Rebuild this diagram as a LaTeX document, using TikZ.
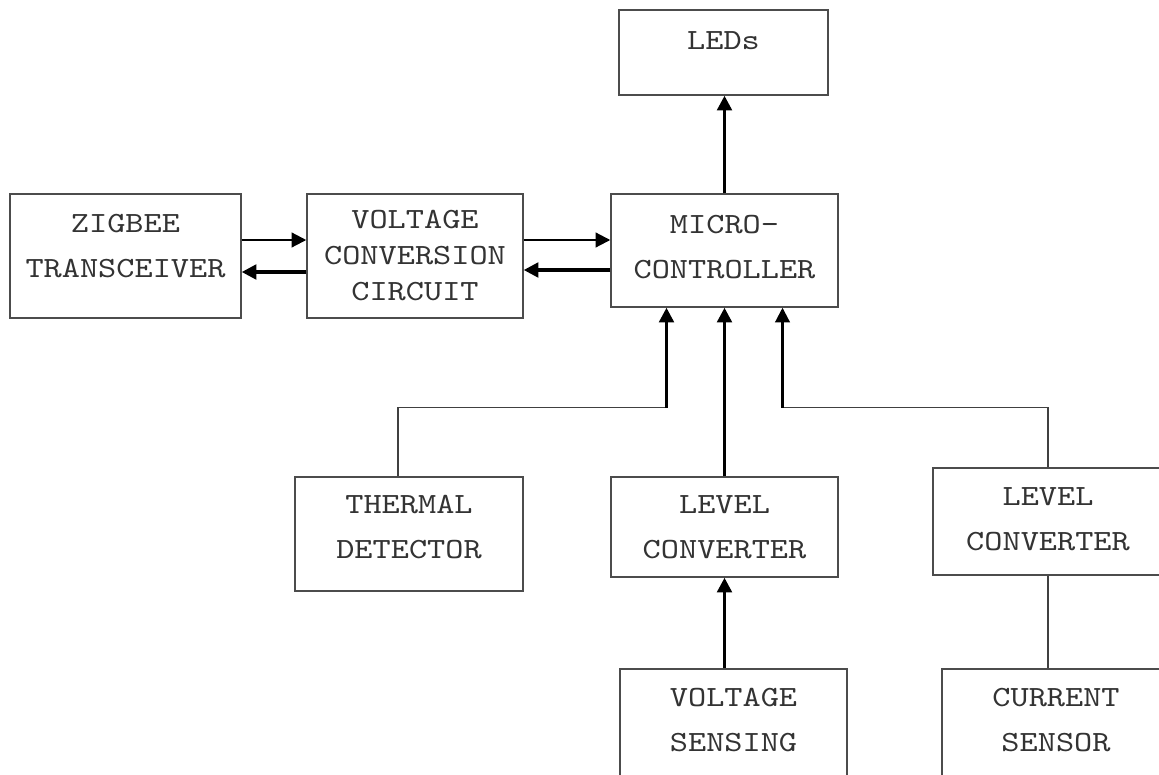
\documentclass[tikz,border=0pt]{standalone}
\usepackage{fontspec}
\newfontfamily\blockfont{lmmono10-regular.otf}[FakeStretch=1.18]
\usetikzlibrary{positioning,calc,arrows.meta}
\newcommand{\padbelow}[1]{\rule[-#1]{0pt}{0pt}}

\tikzset{
  block/.style={draw=black!70, line width=1.1pt, rectangle, align=center, inner sep=0pt,
    font=\blockfont\fontsize{22}{33.75}\selectfont, text=black!80},
  wire/.style={draw=black!75, line width=1.1pt},
  fwd/.style={-{Triangle[length=11pt,width=11pt]}, line width=2.4pt},
  fwdthin/.style={-{Triangle[length=11pt,width=11pt]}, line width=1.6pt}
}

\begin{document}
\begin{tikzpicture}[x=0.75pt,y=-0.75pt]
	\clip (0,0) rectangle (1159,774);
	\fill[white] (0,0) rectangle (1159,774);
	% top row
	\node[block, minimum width=156.75pt, minimum height=63.75pt] (leds) at (723.5,52.5) {};
	\node[block, draw=none, below=16pt of leds.north] (ledstxt) {LEDs};
	\node[block, minimum width=173.25pt, minimum height=93pt] (zig) at (125.5,256) {ZIGBEE\\TRANSCEIVER\padbelow{15pt}};
	\node[block, minimum width=162pt, minimum height=93pt, font=\blockfont\fontsize{22}{27}\selectfont] (vcc) at (415,256) {VOLTAGE\\CONVERSION\\CIRCUIT};
	\node[block, minimum width=170.25pt, minimum height=84.75pt] (mcu) at (724.5,250.5) {MICRO-\\CONTROLLER\padbelow{6pt}};
	% sensing row
	\node[block, minimum width=171pt, minimum height=85.5pt] (therm) at (409,534) {THERMAL\\DETECTOR\padbelow{10.5pt}};
	\node[block, minimum width=170.25pt, minimum height=75pt] (lvla) at (724.5,527) {LEVEL\\CONVERTER};
	\node[block, minimum width=172.5pt, minimum height=80.25pt] (lvlb) at (1048,521.5) {LEVEL\\CONVERTER\padbelow{3pt}};
	\node[block, minimum width=170.25pt, minimum height=83.25pt] (vsen) at (733.5,724.5) {VOLTAGE\\SENSING\padbelow{7.5pt}};
	\node[block, minimum width=171pt, minimum height=83.25pt] (csen) at (1056,724.5) {CURRENT\\SENSOR\padbelow{7.5pt}};

	% links
	\coordinate (zigTx) at ($(zig.east)+(0,-16)$);
	\coordinate (zigRx) at ($(zig.east)+(0,16)$);
	\coordinate (vccTx) at ($(vcc.east)+(0,-16)$);
	\coordinate (vccRx) at ($(vcc.east)+(0,14)$);
	\coordinate (mcuL) at ($(mcu.south)+(-58,0)$);
	\coordinate (mcuR) at ($(mcu.south)+(58,0)$);
	\coordinate (busL) at ($(mcuL)+(0,100)$);
	\coordinate (busR) at ($(mcuR)+(0,100)$);
	\coordinate (thermTop) at ($(therm.north)+(-11,0)$);

	\draw[fwdthin] (zigTx) -- (zigTx -| vcc.west);
	\draw[fwd] (zigRx -| vcc.west) -- (zigRx);
	\draw[fwdthin] (vccTx) -- (vccTx -| mcu.west);
	\draw[fwd] (vccRx -| mcu.west) -- (vccRx);
	\draw[fwd] (mcu.north) -- (mcu.north |- leds.south);

	\draw[wire] (thermTop) |- (busL);
	\draw[fwd] (busL) -- (mcuL);
	\draw[fwd] (lvla.north) -- (mcu.south);
	\draw[wire] (lvlb.north) |- (busR);
	\draw[fwdthin] (busR) -- (mcuR);
	\draw[fwd] (lvla.south |- vsen.north) -- (lvla.south);
	\draw[wire] (lvlb.south) -- (lvlb.south |- csen.north);
\end{tikzpicture}
\end{document}
